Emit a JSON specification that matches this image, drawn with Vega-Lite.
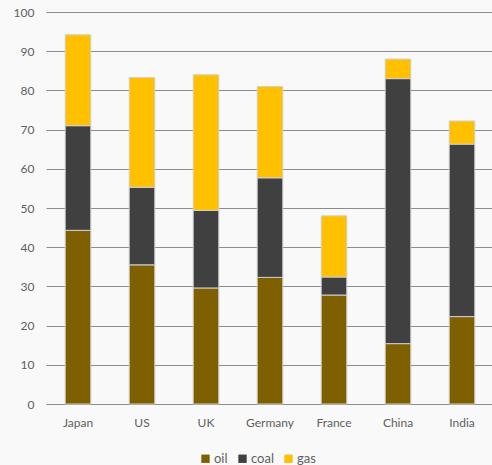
{
  "$schema": "https://vega.github.io/schema/vega-lite/v6.json",
  "width": 448,
  "height": 392,
  "autosize": "none",
  "padding": {"left": 46, "top": 12, "right": 0, "bottom": 61},
  "background": "#f9f9f9",
  "config": {
    "view": {"stroke": null},
    "font": "Lato",
    "axis": {"labelColor": "#606060", "labelFont": "Lato", "labelFontSize": 12, "domain": false, "ticks": false}
  },
  "data": {
    "values": [
      {"country": "Japan", "fuel": "oil", "k": 1, "value": 44.3},
      {"country": "Japan", "fuel": "coal", "k": 2, "value": 26.7},
      {"country": "Japan", "fuel": "gas", "k": 3, "value": 23.2},
      {"country": "US", "fuel": "oil", "k": 1, "value": 35.5},
      {"country": "US", "fuel": "coal", "k": 2, "value": 19.8},
      {"country": "US", "fuel": "gas", "k": 3, "value": 28.0},
      {"country": "UK", "fuel": "oil", "k": 1, "value": 29.6},
      {"country": "UK", "fuel": "coal", "k": 2, "value": 19.8},
      {"country": "UK", "fuel": "gas", "k": 3, "value": 34.6},
      {"country": "Germany", "fuel": "oil", "k": 1, "value": 32.3},
      {"country": "Germany", "fuel": "coal", "k": 2, "value": 25.4},
      {"country": "Germany", "fuel": "gas", "k": 3, "value": 23.3},
      {"country": "France", "fuel": "oil", "k": 1, "value": 27.8},
      {"country": "France", "fuel": "coal", "k": 2, "value": 4.6},
      {"country": "France", "fuel": "gas", "k": 3, "value": 15.6},
      {"country": "China", "fuel": "oil", "k": 1, "value": 15.4},
      {"country": "China", "fuel": "coal", "k": 2, "value": 67.6},
      {"country": "China", "fuel": "gas", "k": 3, "value": 5.0},
      {"country": "India", "fuel": "oil", "k": 1, "value": 22.3},
      {"country": "India", "fuel": "coal", "k": 2, "value": 44.0},
      {"country": "India", "fuel": "gas", "k": 3, "value": 5.9}
    ]
  },
  "mark": {"type": "bar", "stroke": "#d0d0d0", "strokeWidth": 1},
  "encoding": {
    "x": {
      "field": "country",
      "type": "nominal",
      "sort": null,
      "title": null,
      "scale": {"paddingInner": 0.6, "paddingOuter": 0.3},
      "axis": {"labelAngle": 0, "labelPadding": 13, "grid": false}
    },
    "y": {
      "field": "value",
      "type": "quantitative",
      "stack": "zero",
      "title": null,
      "scale": {"domain": [0, 100], "nice": false},
      "axis": {"values": [0, 10, 20, 30, 40, 50, 60, 70, 80, 90, 100], "grid": true, "gridColor": "#8c8c8c", "gridWidth": 1.2, "labelPadding": 12}
    },
    "color": {
      "field": "fuel",
      "type": "nominal",
      "scale": {"domain": ["oil", "coal", "gas"], "range": ["#7f6000", "#404040", "#ffc000"]},
      "legend": {
        "title": null,
        "orient": "none",
        "direction": "horizontal",
        "legendX": 153,
        "legendY": 440,
        "symbolType": "square",
        "symbolSize": 70,
        "symbolStrokeWidth": 0,
        "labelFontSize": 13,
        "labelColor": "#606060",
        "labelOffset": 2,
        "columnPadding": 8
      }
    },
    "order": {"field": "k", "type": "quantitative"}
  }
}
